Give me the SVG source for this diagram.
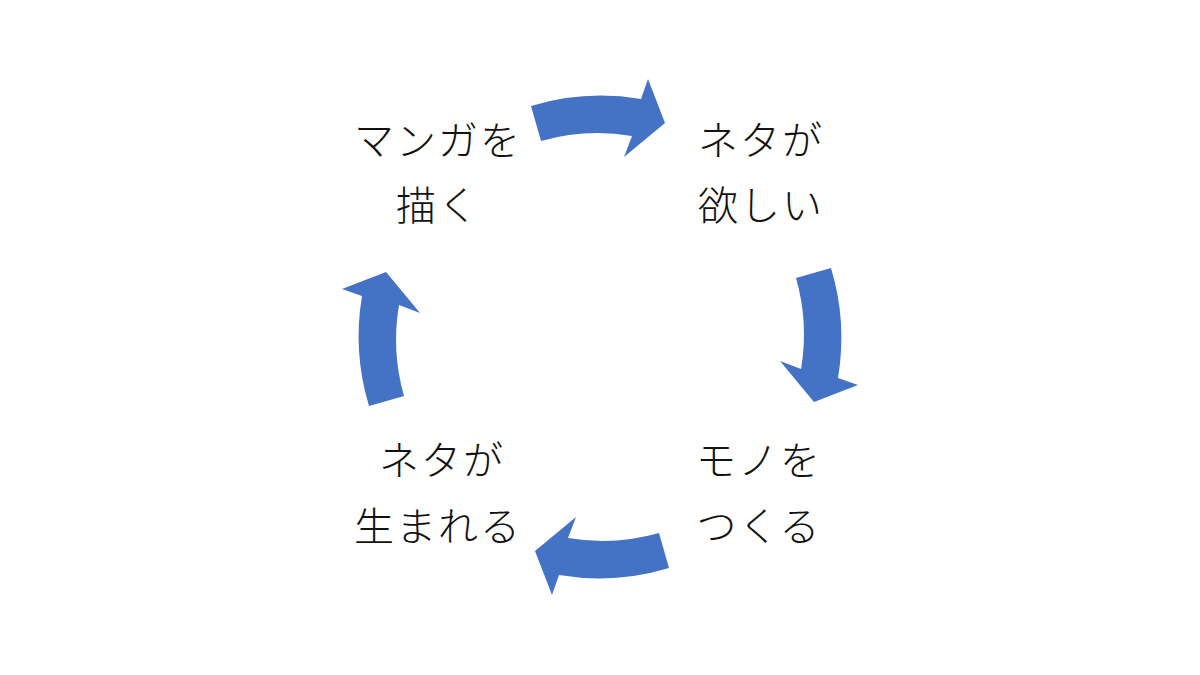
<svg xmlns="http://www.w3.org/2000/svg" width="1200" height="675" viewBox="0 0 1200 675">
  <style>
    .lbl { font-family: "Noto Sans CJK JP", "Noto Sans", sans-serif; font-size: 40px; font-weight: 300; fill: #111111; text-anchor: middle; letter-spacing: 2px; }
    .arr { fill: #4472C4; }
  </style>
  <defs>
    <path id="carrow" d="M 531,106 A 241 241 0 0 1 641,99 L 648,79 L 665,123 L 624,157 L 632,136 A 205 205 0 0 0 541,141 Z"/>
  </defs>
  <rect width="1200" height="675" fill="#ffffff"/>
  <g id="connectors">
    <use href="#carrow" class="arr"/>
    <use href="#carrow" class="arr" transform="rotate(90 600 337)"/>
    <use href="#carrow" class="arr" transform="rotate(180 600 337)"/>
    <use href="#carrow" class="arr" transform="rotate(270 600 337)"/>
  </g>
  <g id="node-draw">
    <text class="lbl" x="438" y="155">マンガを</text>
    <text class="lbl" x="438" y="220">描く</text>
  </g>
  <g id="node-want">
    <text class="lbl" x="761" y="155">ネタが</text>
    <text class="lbl" x="761" y="220">欲しい</text>
  </g>
  <g id="node-make">
    <text class="lbl" x="759" y="475">モノを</text>
    <text class="lbl" x="759" y="541">つくる</text>
  </g>
  <g id="node-born">
    <text class="lbl" x="442" y="475">ネタが</text>
    <text class="lbl" x="438" y="541">生まれる</text>
  </g>
</svg>
